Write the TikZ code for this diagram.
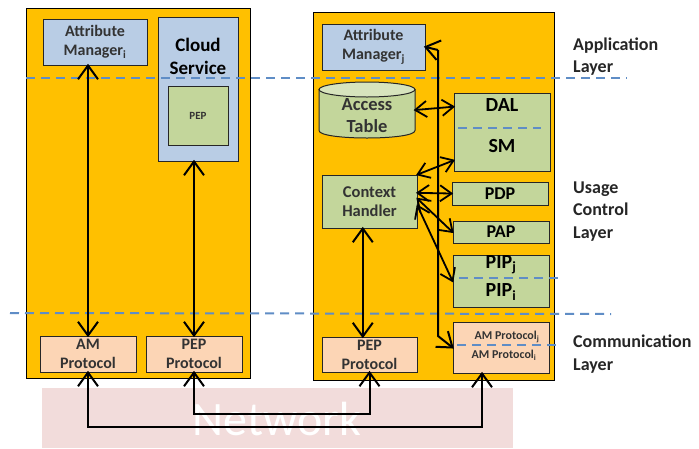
\documentclass[tikz,border=0pt]{standalone}
\usepackage{fontspec}
\setmainfont{Carlito}
\usetikzlibrary{calc}
\definecolor{ylw}{HTML}{FFC000}
\definecolor{lblue}{HTML}{B9CDE5}
\definecolor{lgreen}{HTML}{C3D69B}
\definecolor{lgreentop}{HTML}{D7E4BD}
\definecolor{peach}{HTML}{FCD5B5}
\definecolor{dashblue}{HTML}{5F8DC6}
\definecolor{netpink}{HTML}{F2DCDB}
\definecolor{txt}{HTML}{333333}
\definecolor{lbl}{HTML}{262626}
\newcommand\chevbig[2]{\draw[tipline] ($(#1)!17pt!36:(#2)$) -- (#1) -- ($(#1)!17pt!-36:(#2)$);}
\newcommand\chevsmall[2]{\draw[tipline, line width=1.8pt] ($(#1)!14pt!35:(#2)$) -- (#1) -- ($(#1)!14pt!-35:(#2)$);}
\begin{document}
\begin{tikzpicture}[x=1pt,y=-1pt,
  container/.style={draw=black, fill=ylw, line width=1pt, inner sep=0pt},
  basebox/.style={draw=black!85, line width=1pt, inner sep=0pt, align=center, text=txt},
  bluebox/.style={basebox, fill=lblue},
  greenbox/.style={basebox, fill=lgreen},
  peachbox/.style={basebox, fill=peach},
  fsixteen/.style={font=\fontsize{16}{19}\selectfont\bfseries},
  ftwenty/.style={font=\fontsize{20}{22}\selectfont\bfseries, text=black},
  layerlbl/.style={anchor=west, align=left, inner sep=0pt, text=lbl, font=\fontsize{18}{22.5}\selectfont\bfseries},
  dline/.style={draw=dashblue, line width=2pt, dash pattern=on 9pt off 6pt},
  conn/.style={line width=2pt},
  cconn/.style={line width=1.8pt},
  tipline/.style={line width=2pt, line cap=butt, line join=miter}]
\useasboundingbox[fill=white] (0,0) rectangle (699,448);
% containers and network
\node[container, minimum width=224pt, minimum height=370pt] (lbox) at (138,193) {};
\node[container, minimum width=241pt, minimum height=368pt] (rbox) at (433.5,196) {};
\node[fill=netpink, minimum width=471pt, minimum height=60pt, inner sep=0pt] (net) at (277.5,418) {};
\node[text=white, font=\fontsize{48}{50}\selectfont] (nettxt) at (277,419) {Network};
% left side
\node[bluebox, fsixteen, minimum width=104pt, minimum height=46pt] (ami) at (95,42) {Attribute\\Manager\textsubscript{i}};
\node[bluebox, minimum width=80pt, minimum height=144pt] (cloud) at (198,89) {};
\node[align=center, font=\fontsize{19}{23}\selectfont\bfseries] (cloudtxt) at (198,56) {Cloud\\Service};
\node[greenbox, minimum width=60pt, minimum height=59pt, font=\fontsize{11}{12}\selectfont\bfseries] (pepl) at (198,115.5) {PEP};
\node[peachbox, fsixteen, minimum width=96pt, minimum height=36pt] (amp) at (88,354) {AM\\Protocol};
\node[peachbox, fsixteen, minimum width=96pt, minimum height=36pt] (pepp) at (194,354) {PEP\\Protocol};
% right side
\node[bluebox, fsixteen, minimum width=103pt, minimum height=46pt] (amj) at (373.5,47) {Attribute\\Manager\textsubscript{j}};
\draw[fill=lgreen, draw=black!85, line width=1pt] (319,89.5) -- (319,130.5) .. controls (319,140.5) and (415,140.5) .. (415,130.5) -- (415,89.5) -- cycle;
\draw[fill=lgreentop, draw=black!85, line width=1pt] (367,89.5) ellipse [x radius=48pt, y radius=7.5pt];
\node[inner sep=0pt, minimum width=96pt, minimum height=56pt] (acc) at (367,110) {};
\node[align=center, text=txt, font=\fontsize{18.5}{22}\selectfont\bfseries] (acctxt) at (367,116) {Access\\Table};
\node[greenbox, minimum width=96pt, minimum height=78pt] (dal) at (502,132) {};
\node[ftwenty] (daltxt) at (502,105) {DAL};
\node[ftwenty] (smtxt) at (502,146) {SM};
\node[greenbox, minimum width=95pt, minimum height=53pt, font=\fontsize{16.5}{19.5}\selectfont\bfseries] (ch) at (369.5,201.5) {Context\\Handler};
\node[greenbox, minimum width=96pt, minimum height=23pt, font=\fontsize{18}{20}\selectfont\bfseries, text=black] (pdp) at (500,193.5) {PDP};
\node[greenbox, minimum width=96pt, minimum height=22pt, font=\fontsize{18}{20}\selectfont\bfseries, text=black] (pap) at (501,232) {PAP};
\node[greenbox, minimum width=96pt, minimum height=52pt] (pip) at (501,281) {};
\node[ftwenty] (pipj) at (501,265) {PIP\textsubscript{j}};
\node[ftwenty] (pipi) at (501,292) {PIP\textsubscript{i}};
\node[peachbox, minimum width=96pt, minimum height=51pt] (ampr) at (501,347.5) {};
\node[text=txt, font=\fontsize{12}{14}\selectfont\bfseries] (amprj) at (507,337) {AM Protocol\textsubscript{j}};
\node[text=txt, font=\fontsize{12}{14}\selectfont\bfseries] (ampri) at (504,355) {AM Protocol\textsubscript{i}};
\node[peachbox, fsixteen, minimum width=95pt, minimum height=35pt] (pepr) at (369.5,354.5) {PEP\\Protocol};
% layer labels
\node[layerlbl] (lapp) at (573,56.5) {Application\\Layer};
\node[layerlbl] (luc) at (573,211.5) {Usage\\Control\\Layer};
\node[layerlbl] (lcom) at (573,354) {Communication\\Layer};
% dashed layer lines
\draw[dline] (26,78) -- (627,78);
\draw[dline] (10,313) -- (611,314);
\draw[dline] (458,128) -- (541,128);
\draw[dline] (459,278) -- (558,278);
\draw[dline] (457,345) -- (557,345);
% connector end points
\coordinate (a1) at (ami.south -| amp.north);
\coordinate (a2) at (amp.north);
\coordinate (b1) at (cloud.south -| pepp.north);
\coordinate (b2) at (pepp.north);
\coordinate (chb) at ($(ch.south west)!0.43!(ch.south east)$);
\coordinate (ppt) at ($(pepr.north west)!0.43!(pepr.north east)$);
\coordinate (bt) at (438,50);
\coordinate (bb) at (438,336);
\coordinate (amje) at (amj.east);
\coordinate (amprw) at (ampr.west);
\coordinate (acce) at (acc.east);
\coordinate (dalp) at ($(dal.north west)!0.18!(dal.south west)$);
\coordinate (smp) at ($(dal.north west)!0.86!(dal.south west)$);
\coordinate (chne) at (ch.north east);
\coordinate (chp1) at ($(ch.north east)!0.34!(ch.south east)$);
\coordinate (chp2) at ($(ch.north east)!0.45!(ch.south east)$);
\coordinate (chp3) at ($(ch.north east)!0.58!(ch.south east)$);
\coordinate (pdpw) at (pdp.west);
\coordinate (papw) at (pap.west);
\coordinate (pipw) at (pip.west);
\coordinate (n1) at (88,427);
\coordinate (n2) at (482,427);
\coordinate (amps) at (amp.south);
\coordinate (amprs) at (ampr.south -| n2);
\coordinate (n3) at (194,414);
\coordinate (n4) at (369.5,414);
\coordinate (pepps) at (pepp.south);
\coordinate (peprs) at (pepr.south);
% left arrows
\draw[conn] (a1) -- (a2); \chevbig{a1}{a2} \chevbig{a2}{a1}
\draw[conn] (b1) -- (b2); \chevbig{b1}{b2} \chevbig{b2}{b1}
% right arrows
\draw[conn] (chb) -- (ppt); \chevbig{chb}{ppt} \chevbig{ppt}{chb}
\draw[conn] (bt) -- (amje); \chevbig{amje}{bt}
\draw[conn] (bt) -- (bb) -- (amprw); \chevbig{amprw}{bb}
\draw[cconn] (acce) -- (dalp); \chevsmall{acce}{dalp} \chevsmall{dalp}{acce}
\draw[cconn] (chne) -- (smp); \chevsmall{chne}{smp} \chevsmall{smp}{chne}
\draw[cconn] (chp1) -- (pdpw); \chevsmall{chp1}{pdpw} \chevsmall{pdpw}{chp1}
\draw[cconn] (chp2) -- (papw); \chevsmall{chp2}{papw} \chevsmall{papw}{chp2}
\draw[cconn] (chp3) -- (pipw); \chevsmall{chp3}{pipw} \chevsmall{pipw}{chp3}
% network connectors
\draw[conn] (amps) -- (n1) -- (n2) -- (amprs); \chevbig{amps}{n1} \chevbig{amprs}{n2}
\draw[conn] (pepps) -- (n3) -- (n4) -- (peprs); \chevbig{pepps}{n3} \chevbig{peprs}{n4}
\end{tikzpicture}
\end{document}
